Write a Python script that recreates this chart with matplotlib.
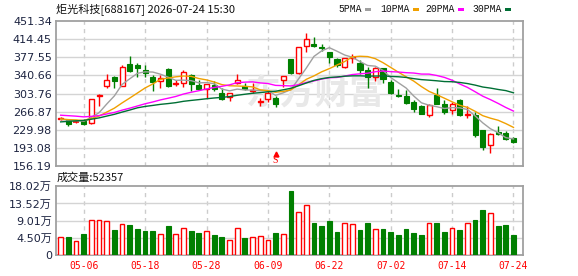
import matplotlib
matplotlib.use('Agg')
import matplotlib.pyplot as plt
from matplotlib.patches import Rectangle
import numpy as np
import pandas as pd

plt.rcParams['font.family'] = ['Noto Sans CJK SC', 'DejaVu Sans']

# ---------------- data ----------------
title = "炬光科技[688167] 2026-07-24 15:30"
tick_idx = [3, 11, 19, 27, 35, 43, 51, 59]
tick_labels = ['05-06', '05-18', '05-28', '06-09', '06-22', '07-02', '07-14', '07-24']

opens = [251.5, 249.4, 245.5, 248.7, 244.6, 298.5, 319.4, 337.1, 319.4, 364.3,
         360.9, 350.7, 337.1, 328.3, 353.4, 322.1, 324.2, 341.2, 320.8, 313.3,
         320.1, 305.1, 297.4, 325.6, 318.1, 307.9, 286.1, 292.9, 295.0, 331.0,
         373.1, 346.0, 401.0, 403.7, 399.0, 388.1, 373.1, 358.2, 375.8, 365.0,
         351.4, 336.4, 354.8, 327.6, 300.4, 298.3, 286.8, 277.9, 259.8, 300.4,
         282.1, 271.1, 291.5, 260.2, 260.9, 229.1, 199.8, 225.7, 224.3, 213.3]
highs = [255.0, 252.8, 247.5, 251.5, 292.3, 302.4, 343.2, 338.5, 361.6, 379.9,
         365.0, 362.3, 341.2, 341.2, 354.8, 331.0, 351.4, 342.5, 331.0, 322.8,
         329.6, 314.0, 304.5, 343.2, 324.9, 324.2, 293.6, 310.6, 298.3, 339.1,
         374.5, 399.0, 427.5, 419.4, 403.7, 388.8, 376.5, 376.5, 384.0, 371.8,
         356.8, 356.8, 356.1, 331.0, 312.5, 310.6, 290.2, 280.0, 282.2, 314.0,
         290.2, 286.8, 292.9, 279.3, 265.7, 230.4, 223.6, 237.2, 227.0, 215.4]
lows = [250.0, 237.2, 244.5, 240.0, 242.6, 278.0, 314.7, 315.3, 318.5, 348.0,
        337.8, 336.4, 309.0, 314.7, 317.4, 319.4, 316.0, 308.3, 310.6, 293.6,
        309.0, 290.2, 288.1, 322.8, 311.3, 305.1, 279.3, 286.1, 276.6, 317.4,
        342.5, 343.2, 387.4, 397.6, 390.8, 365.0, 358.2, 356.1, 366.3, 342.5,
        315.3, 329.6, 324.2, 302.4, 296.9, 283.4, 266.4, 261.6, 255.6, 282.1,
        263.0, 261.6, 257.5, 254.1, 215.4, 188.3, 182.9, 218.8, 208.7, 203.3]
closes = [253.8, 242.6, 246.5, 241.3, 292.3, 300.5, 331.0, 329.6, 357.5, 350.0,
          356.1, 345.9, 327.6, 335.8, 319.4, 324.2, 348.0, 322.1, 313.3, 322.1,
          313.3, 292.9, 304.2, 331.0, 313.3, 311.9, 288.1, 304.5, 282.1, 339.1,
          344.6, 397.6, 413.9, 401.0, 395.6, 377.2, 361.6, 375.2, 377.9, 351.4,
          337.8, 354.8, 332.3, 305.1, 298.3, 284.7, 273.2, 263.0, 280.2, 283.4,
          266.4, 282.1, 260.9, 262.9, 218.8, 195.1, 222.3, 221.0, 212.1, 205.9]
# closes before the visible window (estimated from the MA lines at the left edge)
prior_closes = [212, 214, 216, 218, 220, 220, 222, 222, 224, 220,
                262, 266, 270, 272, 268, 266, 268, 264, 270, 266,
                256, 254, 252, 251, 252, 250, 249, 251, 251]
volumes = [47200, 47200, 35900, 55100, 91000, 91800, 88300, 65600, 80500, 78700,
           67400, 63000, 63000, 54200, 76100, 54200, 70900, 63000, 57700, 62100,
           52500, 48100, 38500, 70900, 45500, 48100, 49900, 38500, 57700, 55100,
           168000, 112000, 130300, 84000, 76100, 89200, 60400, 83100, 80500, 65600,
           84000, 68200, 68200, 60400, 52500, 68200, 57700, 52500, 83100, 84000,
           60400, 70900, 65600, 83100, 91800, 118100, 109300, 76100, 78700, 52357]
last_volume = 52357
ma_periods = [5, 10, 20, 30]
ma_labels = ['5PMA', '10PMA', '20PMA', '30PMA']
ma_colors = ['#a0a0a0', '#f0a000', '#ff00ff', '#006f35']
price_ticks = [156.19, 193.08, 229.98, 266.87, 303.76, 340.66, 377.55, 414.45, 451.34]
vol_ticks = [0, 45050, 90100, 135150, 180200]

# ---------------- layout ----------------
W, H = 578, 276
fig = plt.figure(figsize=(W / 100, H / 100), dpi=100)
L, R = 56, 522.7
ax = fig.add_axes([L / W, 1 - 166 / H, (R - L) / W, (166 - 21) / H])
axv = fig.add_axes([L / W, 1 - 255 / H, (R - L) / W, (255 - 186.3) / H])

RED = '#ff0000'
GRN = '#007f00'
n = len(closes)
x = np.arange(n)
xlim = (-0.61, 60.2)

all_closes = pd.Series(prior_closes + closes, dtype=float)

for a in (ax, axv):
    a.set_xlim(*xlim)
    for s in a.spines.values():
        s.set_color('#a0a0a0')
        s.set_linewidth(1.3)
    for t in tick_idx:
        a.axvline(t, color='#cccccc', lw=1, ls=(0, (3, 3)), zorder=0.5)

# main price panel
ax.set_ylim(price_ticks[0], price_ticks[-1])
ax.set_yticks(price_ticks)
ax.set_yticklabels([f"{v:.2f}" for v in price_ticks], fontsize=8, color='#1c2340',
                   family=['DejaVu Sans'])
ax.tick_params(axis='y', length=0, pad=3)
ax.set_xticks([])
for v in price_ticks[1:-1]:
    ax.axhline(v, color='#d4d4d4', lw=1, zorder=0.5)

# watermark (display pixel coordinates, origin bottom-left)
ax.text(315, H - 93, '东方财富', transform=None, fontsize=25, fontweight='bold',
        color='#e8e8e8', ha='center', va='center', zorder=0.6,
        family=['Noto Sans CJK SC'])

bw = 0.66
for i in range(n):
    o, h, l, c = opens[i], highs[i], lows[i], closes[i]
    up = c >= o
    col = RED if up else GRN
    ax.vlines(i, l, h, color=col, lw=1, zorder=2)
    bot, top = min(o, c), max(o, c)
    if top - bot < 1.2:
        ax.hlines((o + c) / 2, i - bw / 2, i + bw / 2, color=col, lw=1.2, zorder=3)
    elif up:
        ax.add_patch(Rectangle((i - bw / 2, bot), bw, top - bot, facecolor='white',
                               edgecolor=col, lw=1, zorder=3))
    else:
        ax.add_patch(Rectangle((i - bw / 2, bot), bw, top - bot, facecolor=col,
                               edgecolor=col, lw=0.8, zorder=3))

for p, colr in zip(ma_periods, ma_colors):
    ma = all_closes.rolling(p).mean().values[len(prior_closes):]
    ax.plot(x, ma, color=colr, lw=1, zorder=4)

# sell marker
ax.plot([28], [181.0], marker='^', color=RED, ms=3.5, zorder=5)
ax.text(28, 167.5, 'S', color=RED, fontsize=7, ha='center', va='center',
        family=['Liberation Serif'], zorder=5)

# volume panel
axv.set_ylim(0, vol_ticks[-1])
axv.set_yticks(vol_ticks)
axv.set_yticklabels(['0'] + [f"{v / 1e4:.2f}万" for v in vol_ticks[1:]], fontsize=8,
                    color='#1c2340', family=['DejaVu Sans', 'Noto Sans CJK SC'])
axv.tick_params(axis='y', length=0, pad=3)
for v in vol_ticks[1:-1]:
    axv.axhline(v, color='#d4d4d4', lw=1, zorder=0.5)
axv.set_xticks(tick_idx)
axv.set_xticklabels(tick_labels, fontsize=7, color=RED, family=['DejaVu Sans Mono'])
axv.tick_params(axis='x', length=0, pad=4)

vw = 0.62
for i in range(n):
    up = closes[i] >= opens[i]
    if up:
        axv.bar(i, volumes[i], width=vw, facecolor='white', edgecolor=RED, lw=1, zorder=3)
    else:
        axv.bar(i, volumes[i], width=vw, facecolor=GRN, edgecolor=GRN, lw=0.8, zorder=3)


def ftxt(px, py, s, **kw):
    fig.text(px / W, 1 - py / H, s, **kw)


ftxt(56, 9.5, title, fontsize=8, color='#111111', va='center', ha='left')
ftxt(57, 177.5, f"成交量:{last_volume}", fontsize=8, color='#111111', va='center', ha='left')

# legend
leg_x = [338, 380, 425, 472]
for lx, lab, colr in zip(leg_x, ma_labels, ma_colors):
    ftxt(lx, 9.5, lab, fontsize=7, color='#111111', va='center', ha='left',
         family=['Liberation Mono'])
    sw = lx + 6.05 * len(lab) + 3
    fig.patches.append(Rectangle((sw / W, 1 - 11 / H), 6 / W, 3 / H, transform=fig.transFigure,
                                 facecolor=colr, edgecolor='none', figure=fig))

fig.savefig('out.png', dpi=100)
